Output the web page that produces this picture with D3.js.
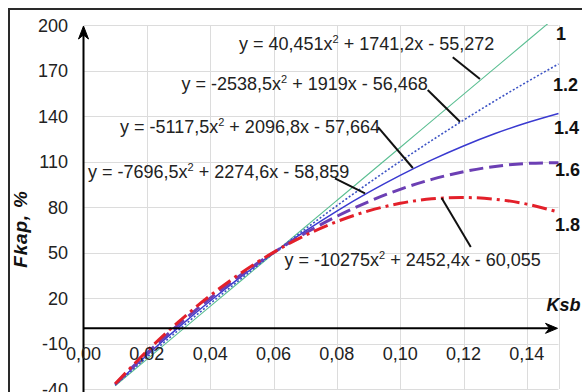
<!DOCTYPE html>
<html>
<head>
<meta charset="utf-8">
<script src="https://cdn.jsdelivr.net/npm/d3@7"></script>
<style>
  html, body { margin: 0; padding: 0; background: #fff; }
  svg { display: block; font-family: "Liberation Sans", Arial, sans-serif; }
</style>
</head>
<body>
<svg id="chart" width="582" height="392"></svg>
<script>
// ---- data ----
const xValues = [0.01, 0.02, 0.03, 0.04, 0.05, 0.06, 0.07, 0.08, 0.09, 0.10, 0.11, 0.12, 0.13, 0.14, 0.15];
const series1  = [-37.86, -20.43, -3.00, 14.44, 31.89, 49.35, 66.81, 84.28, 101.76, 119.25, 136.75, 154.25, 171.77, 189.29, 206.82];
const series12 = [-37.53, -19.10, -1.18, 16.23, 33.14, 49.53, 65.42, 80.81, 95.68, 110.05, 123.91, 137.26, 150.10, 162.44, 174.27];
const series14 = [-37.21, -17.78, 0.63, 18.02, 34.38, 49.72, 64.04, 77.33, 89.60, 100.84, 111.06, 120.26, 128.43, 135.59, 141.71];
const series16 = [-36.88, -16.45, 2.45, 19.81, 35.63, 49.91, 62.65, 73.85, 83.51, 91.64, 98.22, 103.26, 106.77, 108.73, 109.16];
const series18 = [-36.56, -15.12, 4.27, 21.60, 36.88, 50.10, 61.27, 70.38, 77.43, 82.44, 85.38, 86.27, 85.11, 81.89, 76.62];
const seriesNames = ["1", "1.2", "1.4", "1.6", "1.8"];
const equations = [
  ["y = 40,451x", " + 1741,2x - 55,272"],
  ["y = -2538,5x", " + 1919x - 56,468"],
  ["y = -5117,5x", " + 2096,8x - 57,664"],
  ["y = -7696,5x", " + 2274,6x - 58,859"],
  ["y = -10275x", " + 2452,4x - 60,055"]
];
const xTicks = [0, 0.02, 0.04, 0.06, 0.08, 0.10, 0.12, 0.14];
const xTickLabels = ["0,00", "0,02", "0,04", "0,06", "0,08", "0,10", "0,12", "0,14"];
const yTicks = [200, 170, 140, 110, 80, 50, 20, -10, -40];
const yTickLabels = ["200", "170", "140", "110", "80", "50", "20", "-10", "-40"];
const xTitle = "Ksb";
const yTitle = "Fkap, %";

// ---- layout / styles ----
const svg = d3.select("#chart");
const x = d3.scaleLinear().domain([0, 0.15]).range([83.5, 558.5]);
const y = d3.scaleLinear().domain([-40, 200]).range([389, 25]);

const styles = [
  { color: "#5cbf93", width: 1.1, dash: null },
  { color: "#3b52c4", width: 1.6, dash: "2,2" },
  { color: "#3a3ad0", width: 1.5, dash: null },
  { color: "#6c3fb4", width: 3, dash: "14,6" },
  { color: "#e3202a", width: 3, dash: "15,5,3,5" }
];
const eqPos = [ [239, 49.5], [181.5, 89.5], [120, 133], [88, 177.5], [284.5, 265.5] ];
const namePos = [ [556, 39.5], [553, 90.5], [554, 134], [555, 175.5], [555, 230.5] ];
// leader lines, in data units
const leaders = [
  [[0.1166, 178.7], [0.1252, 164.4]],
  [[0.1087, 157.1], [0.1189, 136.2]],
  [[0.0930, 132.7], [0.1040, 105.7]],
  [[0.0794, 98.9],  [0.0889, 89.0]],
  [[0.1131, 85.9],  [0.1223, 53.6]]
];

// border
svg.append("rect").attr("x", 9).attr("y", 9).attr("width", 620).attr("height", 420)
  .attr("fill", "none").attr("stroke", "#2a2a2a").attr("stroke-width", 2);

// gridlines
const grid = svg.append("g").attr("stroke", "#dcdcdc").attr("stroke-width", 1);
grid.selectAll("line.h").data(yTicks).join("line")
  .attr("x1", x(0)).attr("x2", x(0.15))
  .attr("y1", d => Math.round(y(d)) + 0.5).attr("y2", d => Math.round(y(d)) + 0.5);
grid.selectAll("line.v").data(xTicks.slice(1).concat([0.15])).join("line")
  .attr("y1", y(200)).attr("y2", y(-40))
  .attr("x1", d => Math.round(x(d)) + 0.5).attr("x2", d => Math.round(x(d)) + 0.5);

// curves
const defs = svg.append("defs");
defs.append("clipPath").attr("id", "plotclip").append("rect")
  .attr("x", x(0)).attr("y", y(200) - 1).attr("width", x(0.15) - x(0) + 2).attr("height", y(-40) - y(200) + 4);

const allSeries = [series1, series12, series14, series16, series18];
const line = d3.line().x(d => x(d[0])).y(d => y(d[1])).curve(d3.curveNatural);
const curves = svg.append("g").attr("clip-path", "url(#plotclip)");
allSeries.forEach((s, i) => {
  curves.append("path")
    .datum(xValues.map((xv, j) => [xv, s[j]]))
    .attr("d", line)
    .attr("fill", "none")
    .attr("stroke", styles[i].color)
    .attr("stroke-width", styles[i].width)
    .attr("stroke-dasharray", styles[i].dash)
    .attr("stroke-linecap", "butt");
});

// axes (crossing at 0)
const axisG = svg.append("g").attr("stroke", "#000").attr("stroke-width", 2).attr("fill", "#000");
axisG.append("line").attr("x1", x(0)).attr("x2", x(0)).attr("y1", 392).attr("y2", y(200) + 6);
axisG.append("path")
  .attr("d", `M${x(0)},${y(200) + 1} L${x(0) - 5},${y(200) + 14} L${x(0)},${y(200) + 10} L${x(0) + 5},${y(200) + 14} Z`)
  .attr("stroke-width", 1);
axisG.append("line").attr("x1", x(0)).attr("x2", x(0.15) - 8).attr("y1", y(0)).attr("y2", y(0));
axisG.append("path")
  .attr("d", `M${x(0.15) - 1},${y(0)} L${x(0.15) - 13},${y(0) - 5} L${x(0.15) - 9},${y(0)} L${x(0.15) - 13},${y(0) + 5} Z`)
  .attr("stroke-width", 1);

// tick labels
svg.append("g").selectAll("text").data(yTicks).join("text")
  .attr("x", 68).attr("y", d => y(d) + 6.5)
  .attr("text-anchor", "end").attr("font-size", 18).attr("fill", "#222")
  .text((d, i) => yTickLabels[i]);
svg.append("g").selectAll("text").data(xTicks).join("text")
  .attr("x", d => x(d)).attr("y", 359.5)
  .attr("text-anchor", "middle").attr("font-size", 18).attr("fill", "#222")
  .text((d, i) => xTickLabels[i]);

// axis titles
svg.append("text").attr("x", 546.5).attr("y", 311)
  .attr("font-size", 18).attr("font-weight", "bold").attr("font-style", "italic").attr("fill", "#111")
  .text(xTitle);
svg.append("text").attr("transform", "translate(27,229) rotate(-90)")
  .attr("text-anchor", "middle")
  .attr("font-size", 19).attr("font-weight", "bold").attr("font-style", "italic").attr("fill", "#111")
  .attr("letter-spacing", 0.8)
  .text(yTitle);

// leader lines
svg.append("g").selectAll("line").data(leaders).join("line")
  .attr("x1", d => x(d[0][0])).attr("y1", d => y(d[0][1]))
  .attr("x2", d => x(d[1][0])).attr("y2", d => y(d[1][1]))
  .attr("stroke", "#111").attr("stroke-width", 2);

// equations
equations.forEach((eq, i) => {
  const t = svg.append("text").attr("x", eqPos[i][0]).attr("y", eqPos[i][1])
    .attr("font-size", 18).attr("fill", "#222");
  t.append("tspan").text(eq[0]);
  t.append("tspan").attr("font-size", 11).attr("dy", -7).text("2");
  t.append("tspan").attr("dy", 7).text(eq[1]);
});

// series names
svg.append("g").selectAll("text").data(seriesNames).join("text")
  .attr("x", (d, i) => namePos[i][0]).attr("y", (d, i) => namePos[i][1])
  .attr("font-size", 18).attr("font-weight", "bold").attr("fill", "#111")
  .text(d => d);
</script>
</body>
</html>
